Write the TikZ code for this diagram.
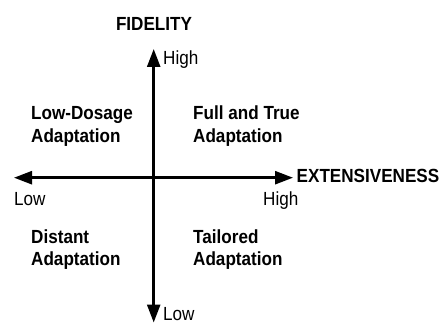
\documentclass[tikz,border=0pt]{standalone}
\usepackage{fontspec}
\setmainfont{Liberation Sans}[FakeStretch=0.9]
\usetikzlibrary{arrows.meta}

\tikzset{
  axisline/.style={line width=2.6pt, {Triangle[length=18pt,width=13pt]}-{Triangle[length=18pt,width=13pt]}},
  quadlabel/.style={inner sep=0pt, anchor=base west, align=left, font=\fontsize{19}{22}\selectfont\bfseries},
  endlabel/.style={inner sep=0pt, anchor=base west, font=\fontsize{19}{22}\selectfont},
  axistitle/.style={inner sep=0pt, font=\fontsize{19}{22}\selectfont\bfseries}
}

\begin{document}
\begin{tikzpicture}[x=1pt,y=-1pt]
\useasboundingbox (0,0) rectangle (443,323);

\coordinate (fidtop) at (153.7,49);
\coordinate (fidbot) at (153.7,322.5);
\coordinate (extleft) at (14,177.7);
\coordinate (extright) at (293,177.7);

\draw[axisline] (fidtop) -- (fidbot);
\draw[axisline] (extleft) -- (extright);

\node[axistitle, anchor=base] (fidelity) at (154,31) {FIDELITY};
\node[axistitle, anchor=base west] (extensiveness) at (296.5,182.5) {EXTENSIVENESS};

\node[endlabel] (fidhigh) at (163,65) {High};
\node[endlabel] (fidlow) at (163,320) {Low};
\node[endlabel] (extlow) at (14,205.5) {Low};
\node[endlabel] (exthigh) at (263,205.5) {High};

\node[quadlabel] (lowdosage) at (31,142) {Low-Dosage\\Adaptation};
\node[quadlabel] (fulltrue) at (193,142) {Full and True\\Adaptation};
\node[quadlabel] (distant) at (31,265.5) {Distant\\Adaptation};
\node[quadlabel] (tailored) at (193,265.5) {Tailored\\Adaptation};
\end{tikzpicture}
\end{document}
